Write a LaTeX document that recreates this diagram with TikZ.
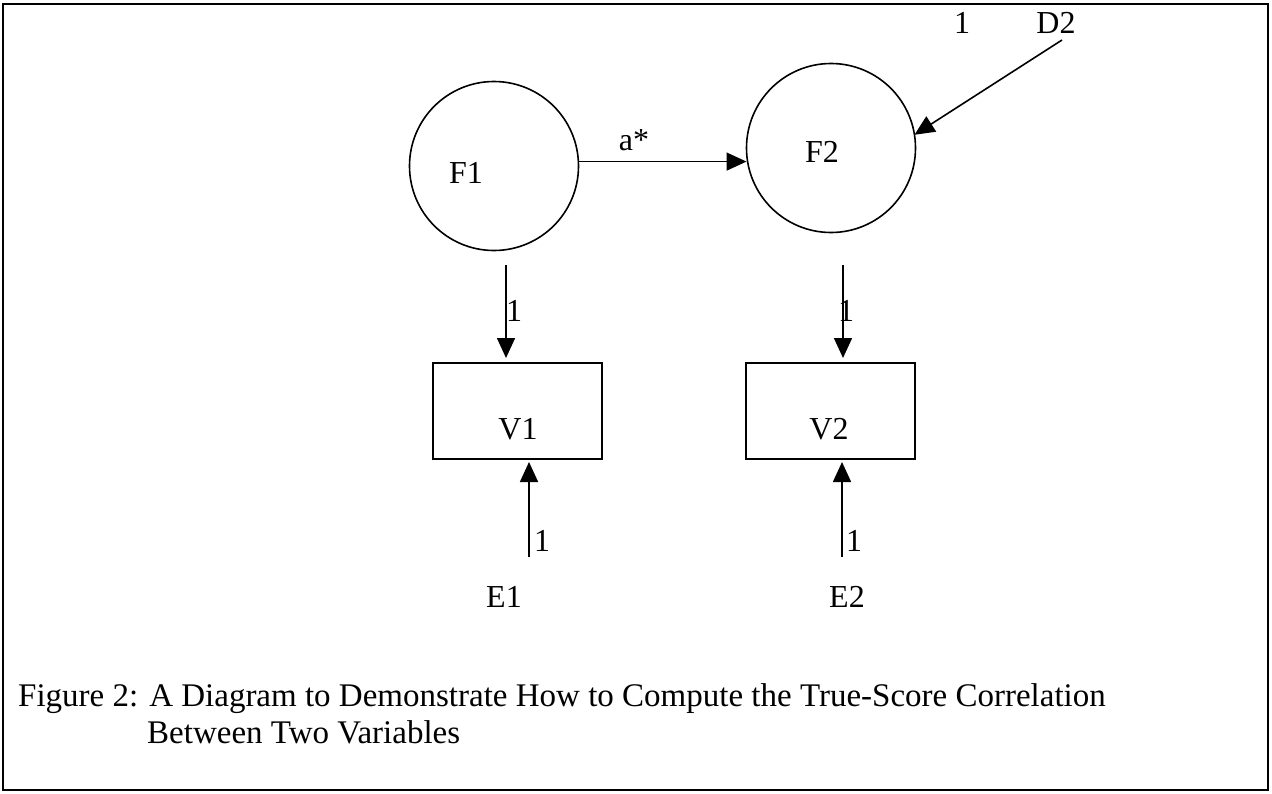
\documentclass[tikz,border=0pt]{standalone}
\usepackage{fontspec}
\setmainfont{Liberation Serif}
\usetikzlibrary{arrows.meta}
\begin{document}
\begin{tikzpicture}[x=1pt,y=-1pt,
  latent/.style={circle, draw, line width=1.6pt, minimum size=169pt, inner sep=0pt, outer sep=0pt},
  observed/.style={rectangle, draw, line width=1.6pt, minimum width=169pt, minimum height=96pt, inner sep=0pt, outer sep=0pt},
  lbl/.style={font=\fontsize{32}{36}\selectfont, inner sep=0pt},
  captext/.style={font=\fontsize{33}{37}\selectfont, inner sep=0pt, anchor=base west},
  arr/.style={-{Triangle[length=20pt,width=18pt]}, line width=1.6pt}]
\useasboundingbox (0,0) rectangle (1272,793);
\draw[line width=2pt] (3,4) rectangle (1268,790);

% latent factors
\node[latent] (F1) at (494,166) {};
\node[latent] (F2) at (831,148) {};
\node[lbl] (F1t) at (466,173) {F1};
\node[lbl] (F2t) at (822,152) {F2};

% observed variables
\node[observed] (V1) at (517.5,411) {};
\node[observed] (V2) at (830.5,411) {};
\node[lbl] (V1t) at (518,429) {V1};
\node[lbl] (V2t) at (829,429) {V2};

% errors and disturbance
\node[lbl] (E1) at (504,597) {E1};
\node[lbl] (E2) at (847,597) {E2};
\node[lbl] (D2) at (1056,23) {D2};
\node[lbl] (D2w) at (962,23) {1};

% connector end points
\coordinate (f1s) at (506,265);
\coordinate (f2s) at (843,265);
\coordinate (e1s) at (529,557);
\coordinate (e2s) at (842,557);
\coordinate (d2s) at (1062,40);

% paths
\draw[arr] (F1.3) -- (F1.3 -| F2.west);
\node[lbl] (astar) at (634,140) {a*};

\draw[arr, shorten >=5pt] (f1s) -- (f1s |- V1.north);
\draw[arr, shorten >=5pt] (f2s) -- (f2s |- V2.north);
\node[lbl] (l1) at (514,311) {1};
\node[lbl] (l2) at (846,311) {1};

\draw[arr, shorten >=3pt] (e1s) -- (e1s |- V1.south);
\draw[arr, shorten >=3pt] (e2s) -- (e2s |- V2.south);
\node[lbl] (l3) at (542,541) {1};
\node[lbl] (l4) at (854,541) {1};

\draw[arr] (d2s) -- (F2.9);

% caption
\node[captext] (cap1) at (18,706) {Figure 2: A Diagram to Demonstrate How to Compute the True-Score Correlation};
\node[captext] (cap2) at (147,743) {Between Two Variables};
\end{tikzpicture}
\end{document}
